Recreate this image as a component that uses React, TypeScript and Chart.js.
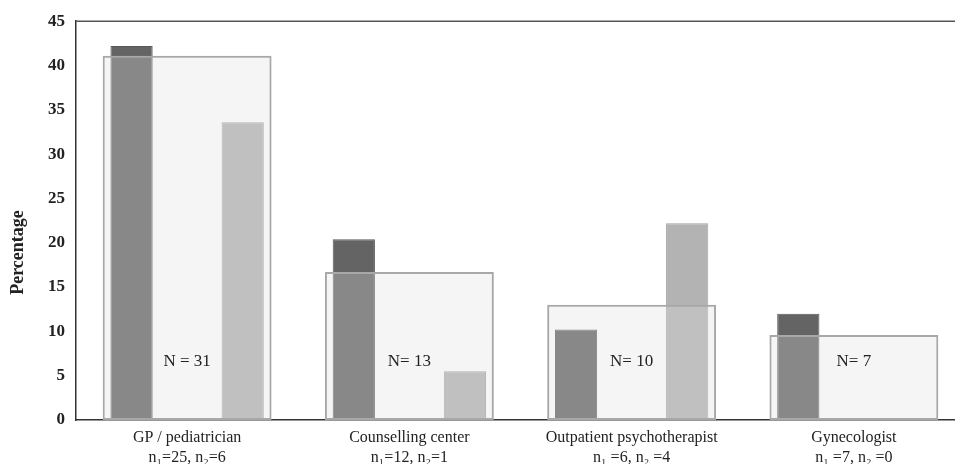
import React, { useEffect, useRef } from "react";
import { Chart, registerables } from "chart.js";
Chart.register(...registerables);

const categories = ["GP / pediatrician", "Counselling center", "Outpatient psychotherapist", "Gynecologist"];
const subLabels = ["n\u2081=25, n\u2082=6", "n\u2081=12, n\u2082=1", "n\u2081 =6, n\u2082 =4", "n\u2081 =7, n\u2082 =0"];
const totalPct = [41.1, 16.7, 13.0, 9.6];
const group1Pct = [42.2, 20.4, 10.2, 12.0];
const group2Pct = [33.6, 5.5, 22.2, 0];
const nLabels = ["N = 31", "N= 13", "N= 10", "N= 7"];
const nLabelLevel = 6.6;
const yTicks = [0, 5, 10, 15, 20, 25, 30, 35, 40, 45];

const SERIF = "'Liberation Serif', 'Times New Roman', serif";

export default function App() {
  const ref = useRef<HTMLCanvasElement>(null);
  useEffect(() => {
    const canvas = ref.current!;
    const extras = {
      id: "extras",
      afterDatasetsDraw(chart: any) {
        const { ctx, chartArea, scales } = chart;
        const x = scales.x;
        const y = scales.y;
        ctx.save();
        ctx.strokeStyle = "#555";
        ctx.lineWidth = 1.5;
        ctx.beginPath();
        ctx.moveTo(chartArea.left, chartArea.top);
        ctx.lineTo(chartArea.right, chartArea.top);
        ctx.stroke();
        ctx.fillStyle = "#222";
        ctx.font = "17px " + SERIF;
        ctx.textAlign = "center";
        ctx.textBaseline = "middle";
        nLabels.forEach((t, i) => ctx.fillText(t, x.getPixelForValue(i), y.getPixelForValue(nLabelLevel)));
        ctx.translate(18, chartArea.top + (chartArea.bottom - chartArea.top) * 0.58);
        ctx.rotate(-Math.PI / 2);
        ctx.font = "bold 18px " + SERIF;
        ctx.fillText("Percentage", 0, 0);
        ctx.restore();
      },
    };
    const chart = new Chart(canvas, {
      type: "bar",
      data: {
        labels: categories.map((c, i) => [c, subLabels[i]]),
        datasets: [
          {
            label: "Total",
            data: totalPct,
            grouped: false,
            order: 0,
            categoryPercentage: 1,
            barPercentage: 0.76,
            backgroundColor: "rgba(221,221,221,0.3)",
            borderColor: "#a8a8a8",
            borderWidth: 2,
            borderSkipped: false,
          } as any,
          {
            label: "Group 1",
            data: group1Pct,
            order: 1,
            categoryPercentage: 1,
            barPercentage: 0.38,
            backgroundColor: "#646464",
            borderColor: "#5a5a5a",
            borderWidth: 1,
          },
          {
            label: "Group 2",
            data: group2Pct,
            order: 1,
            categoryPercentage: 1,
            barPercentage: 0.38,
            backgroundColor: "#b3b3b3",
            borderColor: "#a2a2a2",
            borderWidth: 1,
          },
        ],
      },
      options: {
        responsive: false,
        animation: false,
        devicePixelRatio: 1,
        layout: { padding: { top: 17, right: 10, left: 0, bottom: 0 } },
        plugins: { legend: { display: false }, tooltip: { enabled: false } },
        scales: {
          x: {
            grid: { display: false, drawTicks: false },
            border: { color: "#333", width: 1.5 },
            ticks: {
              color: "#222",
              font: { family: SERIF, size: 16, lineHeight: 1.3 },
              padding: 7,
              maxRotation: 0,
              autoSkip: false,
            },
            afterFit: (s: any) => { s.height = 44; },
          },
          y: {
            min: 0,
            max: 45,
            afterBuildTicks: (s: any) => { s.ticks = yTicks.map((v) => ({ value: v })); },
            grid: { display: false, drawTicks: false },
            border: { color: "#333", width: 1.5 },
            ticks: {
              color: "#222",
              font: { family: SERIF, size: 17, weight: "bold" },
              padding: 11,
            },
            afterFit: (s: any) => { s.width = 76; },
          },
        },
      },
      plugins: [extras],
    });
    return () => chart.destroy();
  }, []);
  return (
    <div style={{ position: "fixed", left: 0, top: 0, width: 955, height: 464, overflow: "hidden", background: "#fff" }}>
      <canvas ref={ref} width={975} height={464} style={{ display: "block" }} />
    </div>
  );
}
